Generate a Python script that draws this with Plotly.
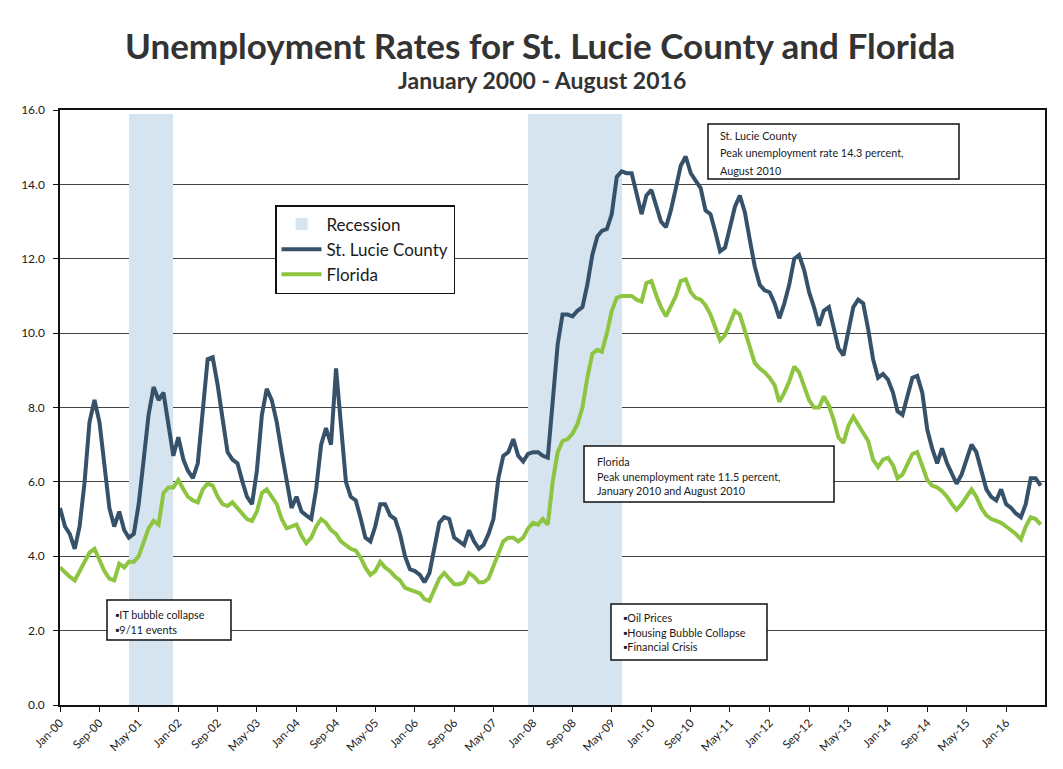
import pandas as pd
import plotly.graph_objects as go

# ---------------- data ----------------
start_month = "2000-01-01"
n_months = 200  # Jan-2000 .. Aug-2016

st_lucie = [
    5.3, 4.8, 4.6, 4.2, 4.8, 6.0, 7.6, 8.2, 7.6, 6.4, 5.3, 4.8,      # 2000
    5.2, 4.7, 4.5, 4.6, 5.4, 6.6, 7.8, 8.55, 8.2, 8.4, 7.6, 6.7,     # 2001
    7.2, 6.6, 6.3, 6.1, 6.5, 7.8, 9.3, 9.35, 8.6, 7.7, 6.8, 6.6,     # 2002
    6.5, 6.0, 5.6, 5.4, 6.3, 7.8, 8.5, 8.2, 7.6, 6.8, 6.1, 5.3,      # 2003
    5.6, 5.2, 5.1, 5.0, 5.8, 7.0, 7.45, 7.0, 9.05, 7.5, 6.0, 5.6,    # 2004
    5.5, 5.0, 4.5, 4.4, 4.8, 5.4, 5.4, 5.1, 5.0, 4.6, 4.0, 3.65,     # 2005
    3.6, 3.5, 3.3, 3.55, 4.2, 4.9, 5.05, 5.0, 4.5, 4.4, 4.3, 4.7,    # 2006
    4.4, 4.2, 4.3, 4.6, 5.0, 6.1, 6.7, 6.8, 7.15, 6.7, 6.55, 6.75,   # 2007
    6.8, 6.8, 6.7, 6.65, 8.3, 9.7, 10.5, 10.5, 10.45, 10.6, 10.7, 11.3,   # 2008
    12.1, 12.6, 12.75, 12.8, 13.2, 14.2, 14.35, 14.3, 14.3, 13.8, 13.2, 13.7,  # 2009
    13.85, 13.4, 13.0, 12.85, 13.3, 13.9, 14.5, 14.75, 14.3, 14.1, 13.9, 13.3,  # 2010
    13.2, 12.7, 12.2, 12.3, 12.8, 13.4, 13.7, 13.25, 12.5, 11.8, 11.3, 11.15,   # 2011
    11.1, 10.8, 10.4, 10.8, 11.3, 12.0, 12.1, 11.7, 11.1, 10.7, 10.2, 10.6,     # 2012
    10.7, 10.1, 9.6, 9.4, 10.0, 10.7, 10.9, 10.8, 10.1, 9.3, 8.8, 8.9,          # 2013
    8.75, 8.4, 7.9, 7.8, 8.3, 8.8, 8.85, 8.4, 7.4, 6.9, 6.5, 6.9,               # 2014
    6.5, 6.2, 5.95, 6.2, 6.6, 7.0, 6.8, 6.3, 5.8, 5.6, 5.5, 5.8,                # 2015
    5.4, 5.3, 5.15, 5.05, 5.4, 6.1, 6.1, 5.9,                                   # 2016
]

florida = [
    3.7, 3.55, 3.45, 3.35, 3.6, 3.9, 4.1, 4.2, 3.9, 3.6, 3.4, 3.35,     # 2000
    3.8, 3.7, 3.85, 3.85, 4.0, 4.4, 4.75, 4.95, 4.85, 5.7, 5.85, 5.85,  # 2001
    6.05, 5.8, 5.6, 5.5, 5.45, 5.8, 5.95, 5.9, 5.6, 5.4, 5.35, 5.45,    # 2002
    5.3, 5.15, 5.0, 4.95, 5.2, 5.7, 5.8, 5.6, 5.4, 5.0, 4.75, 4.8,      # 2003
    4.85, 4.55, 4.35, 4.5, 4.8, 5.0, 4.9, 4.7, 4.6, 4.4, 4.3, 4.2,      # 2004
    4.15, 3.95, 3.7, 3.5, 3.6, 3.85, 3.7, 3.6, 3.45, 3.35, 3.15, 3.1,   # 2005
    3.05, 3.0, 2.85, 2.8, 3.1, 3.4, 3.55, 3.4, 3.25, 3.25, 3.3, 3.55,   # 2006
    3.45, 3.3, 3.3, 3.4, 3.75, 4.1, 4.4, 4.5, 4.5, 4.4, 4.5, 4.75,      # 2007
    4.9, 4.85, 5.0, 4.85, 6.0, 6.8, 7.1, 7.15, 7.3, 7.55, 8.0, 8.8,     # 2008
    9.45, 9.55, 9.5, 10.0, 10.6, 10.95, 11.0, 11.0, 11.0, 10.9, 10.85, 11.35,  # 2009
    11.4, 11.0, 10.7, 10.45, 10.7, 11.0, 11.4, 11.45, 11.1, 10.95, 10.9, 10.75,  # 2010
    10.5, 10.15, 9.8, 9.95, 10.3, 10.6, 10.5, 10.05, 9.6, 9.2, 9.05, 8.95,     # 2011
    8.8, 8.6, 8.15, 8.4, 8.7, 9.1, 8.95, 8.55, 8.2, 8.0, 8.0, 8.3,             # 2012
    8.05, 7.65, 7.2, 7.05, 7.5, 7.75, 7.55, 7.3, 7.1, 6.6, 6.4, 6.6,           # 2013
    6.65, 6.45, 6.1, 6.2, 6.5, 6.75, 6.8, 6.4, 6.05, 5.9, 5.85, 5.75,          # 2014
    5.6, 5.4, 5.25, 5.4, 5.6, 5.8, 5.6, 5.3, 5.1, 5.0, 4.95, 4.9,              # 2015
    4.8, 4.7, 4.6, 4.45, 4.8, 5.05, 5.0, 4.85,                                  # 2016
]

recession_periods = [("2001-03-01", "2001-11-01"), ("2007-12-01", "2009-06-01")]
recession_level = 15.9

title_text = "Unemployment Rates for St. Lucie County and Florida"
subtitle_text = "January 2000 - August 2016"

box_notes = [
    ["St. Lucie County", "Peak unemployment rate 14.3 percent,", "August 2010"],
    ["Florida", "Peak unemployment rate 11.5 percent,", "January 2010 and August 2010"],
    ["\u25aaIT bubble collapse", "\u25aa9/11 events"],
    ["\u25aaOil Prices", "\u25aaHousing Bubble Collapse", "\u25aaFinancial Crisis"],
]

# ---------------- build ----------------
months = pd.date_range(start_month, periods=n_months, freq="MS")

rec_x, rec_w, rec_y = [], [], []
for a, b in recession_periods:
    for m in pd.date_range(a, b, freq="MS"):
        nxt = m + pd.offsets.MonthBegin(1)
        rec_x.append(m)
        rec_w.append((nxt - m).total_seconds() * 1000)
        rec_y.append(recession_level)

FONT = "Lato"
PAGE_OFF = 8                      # default body margin of the html page
SW, SH = 1063, 769                # screenshot size
W, H = SW - PAGE_OFF, SH - PAGE_OFF
PL, PR, PT, PB = 60, 1045, 110, 705   # plot area in screenshot pixels
L, T = PL - PAGE_OFF, PT - PAGE_OFF
PW, PH = PR - PL, PB - PT
R = W - L - PW
B = H - T - PH


def px(x, y):
    """screenshot pixel -> paper coordinates"""
    return (x - PL) / PW, (PB - y) / PH


fig = go.Figure()
fig.add_trace(go.Bar(
    x=rec_x, y=rec_y, width=rec_w, offset=0, name="Recession",
    marker=dict(color="#d5e4ef", line=dict(width=0)), hoverinfo="skip",
))
fig.add_trace(go.Scatter(
    x=months, y=st_lucie, mode="lines", name="St. Lucie County",
    line=dict(color="#36526b", width=4),
))
fig.add_trace(go.Scatter(
    x=months, y=florida, mode="lines", name="Florida",
    line=dict(color="#8dc540", width=4),
))

shapes = []
annotations = []

boxes = [
    dict(x0=708, x1=959, y0=124, y1=179, tx=718, lines=[136, 153, 170], notes=box_notes[0]),
    dict(x0=584, x1=834, y0=446, y1=502, tx=595, lines=[461, 476, 491], notes=box_notes[1]),
    dict(x0=107, x1=231, y0=600, y1=640, tx=113, lines=[614, 629], notes=box_notes[2]),
    dict(x0=611, x1=767, y0=604, y1=660, tx=621, lines=[617, 632, 646], notes=box_notes[3]),
]
for bx in boxes:
    x0, y0 = px(bx["x0"], bx["y1"])
    x1, y1 = px(bx["x1"], bx["y0"])
    shapes.append(dict(type="rect", xref="paper", yref="paper", x0=x0, x1=x1, y0=y0, y1=y1,
                       line=dict(color="#111", width=1.5), fillcolor="white", layer="above"))
    for ly, txt in zip(bx["lines"], bx["notes"]):
        ax, ay = px(bx["tx"], ly)
        annotations.append(dict(xref="paper", yref="paper", x=ax, y=ay, text=txt,
                                showarrow=False, xanchor="left", yanchor="middle",
                                font=dict(family=FONT, size=10.8, color="#1a1a1a")))

tx, ty = px(540, 45)
annotations.append(dict(xref="paper", yref="paper", x=tx, y=ty,
                        text="<b>" + title_text + "</b>", showarrow=False,
                        xanchor="center", yanchor="middle",
                        font=dict(family=FONT, size=35, color="#333")))
sx, sy = px(542, 80)
annotations.append(dict(xref="paper", yref="paper", x=sx, y=sy,
                        text="<b>" + subtitle_text + "</b>", showarrow=False,
                        xanchor="center", yanchor="middle",
                        font=dict(family=FONT, size=23, color="#333")))

lx, ly = px(275, 205)
fig.update_layout(
    width=W, height=H,
    margin=dict(l=L, r=R, t=T, b=B, autoexpand=False),
    paper_bgcolor="white", plot_bgcolor="white",
    font=dict(family=FONT, color="#222"),
    bargap=0,
    showlegend=True,
    legend=dict(x=lx, y=ly, xanchor="left", yanchor="top",
                bgcolor="white", bordercolor="#111", borderwidth=1.5,
                font=dict(family=FONT, size=17, color="#1a1a1a"),
                traceorder="normal", itemwidth=40),
    shapes=shapes,
    annotations=annotations,
    xaxis=dict(type="date", range=["2000-01-01", "2016-08-28"],
               tick0="2000-01-01", dtick="M8", tickformat="%b-%y", tickangle=-45,
               ticks="outside", ticklen=5, tickcolor="#111",
               showline=True, linecolor="#111", linewidth=1.5, mirror=True,
               showgrid=False, tickfont=dict(family=FONT, size=11.5, color="#1a1a1a")),
    yaxis=dict(range=[0, 16], dtick=2, tickformat=".1f",
               ticks="outside", ticklen=5, tickcolor="#111", ticklabelstandoff=6,
               showline=True, linecolor="#111", linewidth=1.5, mirror=True,
               showgrid=True, gridcolor="#444", gridwidth=1.2,
               zeroline=False, tickfont=dict(family=FONT, size=12, color="#1a1a1a")),
)

fig.write_html("out.html")
